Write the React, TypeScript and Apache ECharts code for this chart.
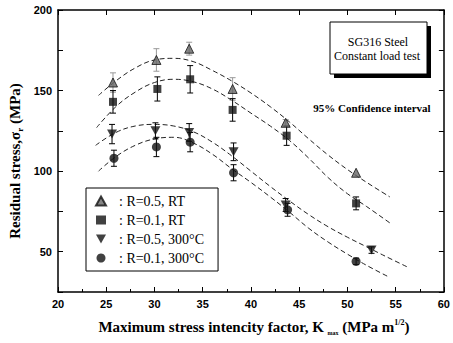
import React, { useEffect, useRef } from 'react';
import * as echarts from 'echarts';

// Measured points (K_max in MPa m^1/2, residual stress in MPa, ±error)
const kTri = [25.7, 30.2, 33.6, 38.1, 43.6, 50.9];
const sTri = [155, 169, 176, 151, 130, 99];
const eTri = [6, 7, 4, 7, 2, 0];

const kSq = [25.7, 30.3, 33.7, 38.1, 43.7, 50.9];
const sSq = [143, 151, 157, 138, 122, 80];
const eSq = [7, 7.5, 8.5, 7, 6, 4];

const kInv = [25.6, 30.1, 33.6, 38.2, 43.6, 52.5];
const sInv = [123, 125, 124, 112, 79, 51];
const eInv = [6, 5, 5.5, 5.5, 4, 2];

const kCir = [25.8, 30.2, 33.7, 38.2, 43.8, 50.9];
const sCir = [108, 115, 118, 99, 76, 44];
const eCir = [5, 6, 6, 5, 4, 2];

// Fitted curves
const fitTriK = [24.2, 26, 28, 30, 32, 34, 36, 38, 40, 42, 44, 46, 48, 50, 52, 54.4];
const fitTriS = [147, 156, 164, 169, 170, 168, 162.5, 156, 148.5, 140, 130.5, 120, 110, 101, 93, 84];
const fitSqK = [24, 26, 28, 30, 32, 34, 36, 38, 40, 42, 44, 46, 48, 50, 52, 54.6];
const fitSqS = [127, 140, 149, 155, 157, 155.5, 151, 144, 136, 128, 119, 108, 96, 86, 78, 67];
const fitInvK = [23.9, 26, 28, 30, 32, 34, 36, 38, 40, 42, 44, 46, 48, 50, 52, 54, 56.4];
const fitInvS = [116, 124, 128, 129, 128, 124.5, 118, 109.5, 100, 90.5, 81.5, 73, 65.5, 59, 53, 47, 40];
const fitCirK = [24.2, 26, 28, 30, 32, 34, 36, 38, 40, 42, 44, 46, 48, 50, 52, 54.4];
const fitCirS = [100, 109, 116, 120, 121, 117.5, 110.5, 101.5, 93, 84, 74.5, 64.5, 56, 48.5, 41.5, 34];

const seriesNames = ['R=0.5, RT', 'R=0.1, RT', 'R=0.5, 300°C', 'R=0.1, 300°C'];

const xMin = 20, xMax = 60, xStep = 5;
const yMin = 25, yMax = 200, yStep = 25;

const invTri = 'path://M0,0L10,0L5,9Z';

const serif = 'Liberation Serif';
const sans = 'Liberation Sans';

export default function App() {
  const ref = useRef<HTMLDivElement>(null);
  useEffect(() => {
    const chart = echarts.init(ref.current!, null, { renderer: 'svg' });
    const zip = (a: number[], b: number[]) => a.map((v, i) => [v, b[i]]);
    const zip3 = (a: number[], b: number[], c: number[]) => a.map((v, i) => [v, b[i], c[i]]);

    const errSeries = (name: string, data: number[][], color: string) => ({
      type: 'custom',
      name,
      data,
      z: 3,
      silent: true,
      renderItem: (_p: any, api: any) => {
        const x = api.value(0), y = api.value(1), e = api.value(2);
        if (!e) return null;
        const t = api.coord([x, y + e]);
        const b = api.coord([x, y - e]);
        const cw = 3;
        const st = { stroke: color, lineWidth: 1 };
        return {
          type: 'group',
          children: [
            { type: 'line', shape: { x1: t[0], y1: t[1], x2: b[0], y2: b[1] }, style: st },
            { type: 'line', shape: { x1: t[0] - cw, y1: t[1], x2: t[0] + cw, y2: t[1] }, style: st },
            { type: 'line', shape: { x1: b[0] - cw, y1: b[1], x2: b[0] + cw, y2: b[1] }, style: st },
          ],
        };
      },
    });

    const fit = (k: number[], s: number[]) => ({
      type: 'line',
      data: zip(k, s),
      smooth: 0.4,
      showSymbol: false,
      silent: true,
      z: 1,
      lineStyle: { color: '#222', width: 1, type: [5, 3] },
    });

    const axisCommon = {
      type: 'value',
      axisLine: { show: true, lineStyle: { color: '#000', width: 1.5 } },
      axisTick: { show: true, inside: true, length: 5, lineStyle: { color: '#000', width: 1 } },
      splitLine: { show: false },
    };

    chart.setOption({
      animation: false,
      backgroundColor: '#fff',
      grid: { left: 58, right: 5, top: 10, bottom: 51 },
      xAxis: [
        {
          ...axisCommon,
          min: xMin, max: xMax, interval: xStep,
          minorTick: { show: true, splitNumber: 2, length: 3, lineStyle: { color: '#000' } },
          axisLabel: { color: '#000', fontFamily: sans, fontWeight: 'bold', fontSize: 11, margin: 6 },
        },
        {
          ...axisCommon,
          position: 'top',
          min: xMin, max: xMax, interval: xStep,
          axisLabel: { show: false },
        },
      ],
      yAxis: [
        {
          ...axisCommon,
          min: yMin, max: yMax, interval: yStep,
          axisLabel: {
            color: '#000', fontFamily: sans, fontWeight: 'bold', fontSize: 11, margin: 6,
            formatter: (v: number) => (v % 50 === 0 ? String(v) : ''),
          },
        },
        {
          ...axisCommon,
          position: 'right',
          min: yMin, max: yMax, interval: yStep,
          axisLabel: { show: false },
        },
      ],
      legend: {
        data: seriesNames,
        orient: 'vertical',
        left: 86,
        top: 188,
        itemGap: 5,
        itemWidth: 10,
        itemHeight: 9,
        padding: [6, 14, 6, 9],
        borderColor: '#000',
        borderWidth: 1,
        backgroundColor: '#fff',
        formatter: (n: string) => ': ' + n,
        textStyle: { fontFamily: serif, fontSize: 14, color: '#000', padding: [0, 0, 0, 8] },
      },
      series: [
        fit(fitTriK, fitTriS),
        fit(fitSqK, fitSqS),
        fit(fitInvK, fitInvS),
        fit(fitCirK, fitCirS),
        errSeries('eTri', zip3(kTri, sTri, eTri), '#999'),
        errSeries('eSq', zip3(kSq, sSq, eSq), '#000'),
        errSeries('eInv', zip3(kInv, sInv, eInv), '#000'),
        errSeries('eCir', zip3(kCir, sCir, eCir), '#000'),
        {
          type: 'scatter', name: seriesNames[0], data: zip(kTri, sTri), symbol: 'triangle', symbolSize: 9, z: 4,
          itemStyle: { color: '#666', borderColor: '#111', borderWidth: 1 },
        },
        {
          type: 'scatter', name: seriesNames[1], data: zip(kSq, sSq), symbol: 'rect', symbolSize: 8, z: 4,
          itemStyle: { color: '#111' },
        },
        {
          type: 'scatter', name: seriesNames[2], data: zip(kInv, sInv), symbol: invTri, symbolSize: [10, 9], z: 4,
          itemStyle: { color: '#111' },
        },
        {
          type: 'scatter', name: seriesNames[3], data: zip(kCir, sCir), symbol: 'circle', symbolSize: 9, z: 4,
          itemStyle: { color: '#111' },
        },
      ],
      graphic: [
        {
          type: 'text', x: 15, y: 161, rotation: Math.PI / 2, z: 10,
          style: {
            text: '{b|Residual stress,σ}{s|r}{b| (MPa)}',
            align: 'center', verticalAlign: 'middle',
            rich: {
              b: { fontFamily: serif, fontWeight: 'bold', fontSize: 15, lineHeight: 18, fill: '#000', verticalAlign: 'middle' },
              s: { fontFamily: serif, fontWeight: 'bold', fontSize: 9, lineHeight: 9, fill: '#000', verticalAlign: 'bottom' },
            },
          },
        },
        {
          type: 'text', x: 254, y: 327, z: 10,
          style: {
            text: '{b|Maximum stress intencity factor, K }{m|max}{b| (MPa m}{p|1/2}{b|)}',
            align: 'center', verticalAlign: 'middle',
            rich: {
              b: { fontFamily: serif, fontWeight: 'bold', fontSize: 15, lineHeight: 18, fill: '#000', verticalAlign: 'middle' },
              m: { fontFamily: serif, fontWeight: 'bold', fontSize: 6, lineHeight: 6, fill: '#000', verticalAlign: 'bottom' },
              p: { fontFamily: serif, fontWeight: 'bold', fontSize: 8, lineHeight: 8, fill: '#000', verticalAlign: 'top' },
            },
          },
        },
        { type: 'rect', shape: { x: 334, y: 26, width: 97, height: 52 }, style: { fill: '#000' }, z: 10 },
        { type: 'rect', shape: { x: 330, y: 22, width: 97, height: 52 }, style: { fill: '#fff', stroke: '#000', lineWidth: 1 }, z: 11 },
        {
          type: 'text', x: 378, y: 42, z: 12,
          style: { text: 'SG316 Steel', fontFamily: serif, fontSize: 12, fill: '#000', align: 'center', verticalAlign: 'middle' },
        },
        {
          type: 'text', x: 377, y: 56, z: 12,
          style: { text: 'Constant load test', fontFamily: serif, fontSize: 12, fill: '#000', align: 'center', verticalAlign: 'middle' },
        },
        {
          type: 'text', x: 372, y: 108, z: 12,
          style: { text: '95% Confidence interval', fontFamily: serif, fontWeight: 'bold', fontSize: 11, fill: '#000', align: 'center', verticalAlign: 'middle' },
        },
      ],
    });
    return () => chart.dispose();
  }, []);
  return <div ref={ref} style={{ position: 'fixed', left: 0, top: 0, width: 453, height: 343, background: '#fff' }} />;
}
